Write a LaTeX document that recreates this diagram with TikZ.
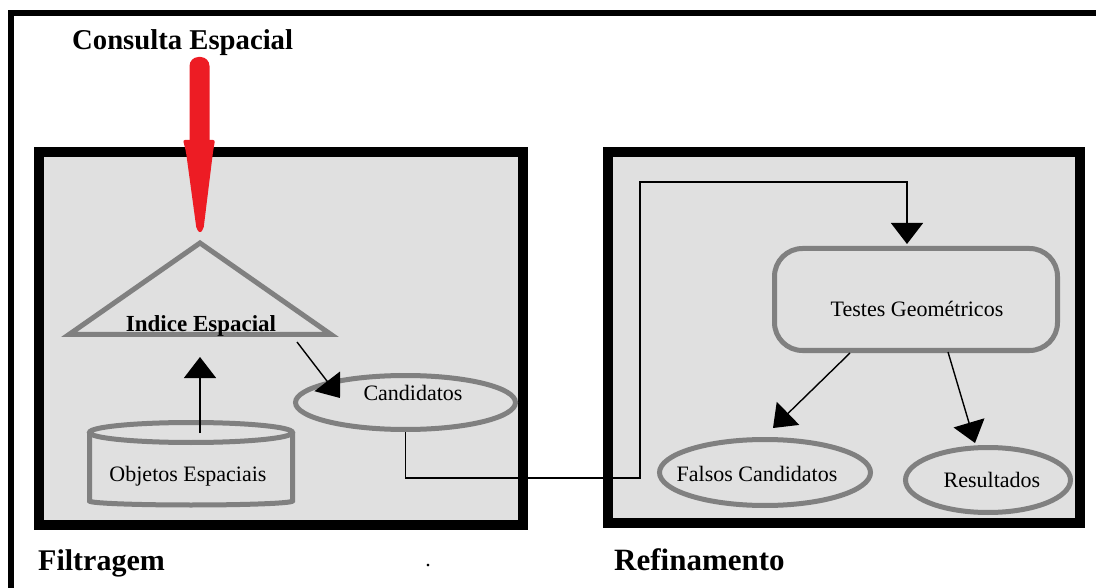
\documentclass[tikz,border=0pt]{standalone}
\usepackage{fontspec}
\setmainfont{Liberation Serif}
\usetikzlibrary{arrows.meta,shapes.geometric}
\definecolor{boxgray}{HTML}{E0E0E0}
\definecolor{strokegray}{HTML}{808080}
\definecolor{redc}{HTML}{ED1C24}
\begin{document}
\begin{tikzpicture}[x=1pt,y=-1pt,
  panel/.style={draw=black, line width=10pt, fill=boxgray, rectangle, inner sep=0pt},
  gstroke/.style={draw=strokegray, line width=5pt},
  gellipse/.style={ellipse, draw=strokegray, line width=5pt, inner sep=0pt},
  conn/.style={draw=black, line width=1.4pt, -{Triangle[width=32pt,length=21pt]}},
  lbl/.style={font=\fontsize{22}{24}\selectfont, inner sep=0pt, anchor=base},
  blbl/.style={font=\bfseries\fontsize{23}{25}\selectfont, inner sep=0pt, anchor=base},
  ttl/.style={font=\bfseries\fontsize{30}{34}\selectfont, inner sep=0pt, anchor=base west}]
\useasboundingbox (0,0) rectangle (1096,588);
% outer frame (top and left only)
\draw[line width=6pt, line join=miter] (1096,13) -- (11,13) -- (11,588);
% panels
\node (fbox) [panel, minimum width=484pt, minimum height=373pt] at (281,338.5) {};
\node (rbox) [panel, minimum width=472pt, minimum height=371pt] at (844,337.5) {};
% red query arrow
\fill[redc, rounded corners=9pt] (189.5,150) -- (189.5,57) -- (209.5,57) -- (209.5,150) -- cycle;
\fill[redc, rounded corners=2pt] (183,140) -- (215,140) -- (213,152) -- (203.5,229) -- (200,233) -- (196.5,229) -- (186,152) -- cycle;
% titles
\node (consulta) [ttl, font=\bfseries\fontsize{28.7}{32}\selectfont] at (72,50) {Consulta Espacial};
\node (filtragem) [ttl] at (38,570) {Filtragem};
\node (refinamento) [ttl, font=\bfseries\fontsize{31}{34}\selectfont] at (614,570) {Refinamento};
\node (dot) [lbl] at (428,566) {.};
% index triangle
\draw[gstroke, line join=miter] (200,243) -- (331,334.5) -- (69,334.5) -- cycle;
\node (indice) [blbl] at (201,331) {Indice Espacial};
% cylinder
\draw[gstroke] (191,432.5) ellipse [x radius=101.5, y radius=10];
\draw[gstroke] (89.5,432.5) -- (89.5,501) arc[start angle=180, end angle=0, x radius=101.5, y radius=4] -- (292.5,432.5);
\node (objetos) [lbl] at (188,481) {Objetos Espaciais};
% candidatos
\node (cand) [gellipse, minimum width=220pt, minimum height=54pt] at (405.5,402.5) {};
\node (candtxt) [lbl] at (413,400) {Candidatos};
% testes
\node (testes) [draw=strokegray, line width=5pt, rounded corners=28pt, minimum width=283pt, minimum height=102pt, inner sep=0pt] at (916,299.5) {};
\node (testestxt) [lbl] at (917,317) {Testes Geométricos};
% falsos
\node (falsos) [gellipse, minimum width=211pt, minimum height=66pt] at (765,472.5) {};
\node (falsostxt) [lbl] at (757,481) {Falsos Candidatos};
% resultados
\node (result) [gellipse, minimum width=165pt, minimum height=65pt] at (988,480) {};
\node (resulttxt) [lbl] at (992,487) {Resultados};
% connector coordinates
\coordinate (cylin) at (200,433);
\coordinate (triout) at (200,357);
\coordinate (tris) at (297,342);
\coordinate (cande) at (340,398);
\coordinate (c1) at (640,478);
\coordinate (c2) at (907,182);
\coordinate (tin) at (907,244);
\coordinate (ts1) at (850,353);
\coordinate (fe) at (773,428);
\coordinate (ts2) at (948,352);
\coordinate (re) at (975,443);
% connectors
\draw[conn] (cylin) -- (triout);
\draw[conn] (tris) -- (cande);
\draw[conn] (cand.south) |- (c1) |- (c2) -- (tin);
\draw[conn] (ts1) -- (fe);
\draw[conn] (ts2) -- (re);
\end{tikzpicture}
\end{document}
